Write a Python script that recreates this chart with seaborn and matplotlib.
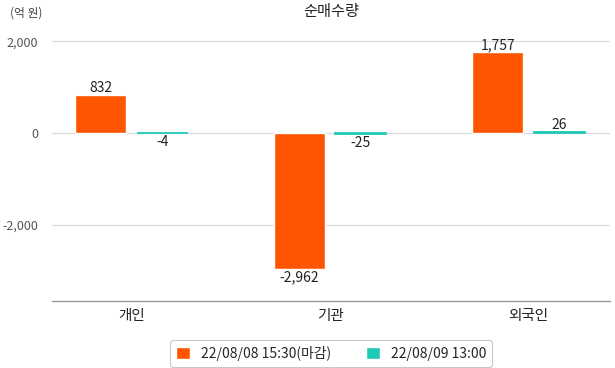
import pandas as pd
import matplotlib.pyplot as plt
import seaborn as sns

# data
categories = ["개인", "기관", "외국인"]
series_names = ["22/08/08 15:30(마감)", "22/08/09 13:00"]
close_values = [832, -2962, 1757]
intraday_values = [-4, -25, 26]
colors = ["#FF5500", "#1FC9B8"]

df = pd.DataFrame({
    "cat": categories * 2,
    "series": [series_names[0]] * 3 + [series_names[1]] * 3,
    "value": close_values + intraday_values,
})

sns.set_theme(style="white")
plt.rcParams["font.family"] = ["Noto Sans CJK KR", "DejaVu Sans"]

fig = plt.figure(figsize=(6.15, 3.68), dpi=100)
ax = fig.add_axes([0.0846, 0.182, 0.9074, 0.736])

sns.barplot(data=df, x="cat", y="value", hue="series", palette=colors,
            width=0.62, gap=0.17, saturation=1, ax=ax, legend=True)

# tiny values still show as a thin line, like the original
for bar in ax.containers[1]:
    bar.set_edgecolor(colors[1])
    bar.set_linewidth(1.3)

# value labels
for container in ax.containers:
    for bar in container:
        v = bar.get_height()
        xc = bar.get_x() + bar.get_width() / 2
        if v >= 0:
            ax.annotate(f"{v:,.0f}", (xc, v), xytext=(0, 0), textcoords="offset points",
                        ha="center", va="bottom", fontsize=10, color="#222222")
        else:
            ax.annotate(f"{v:,.0f}", (xc, v), xytext=(0, -1), textcoords="offset points",
                        ha="center", va="top", fontsize=10, color="#222222")

ax.set_xlim(-0.4, 2.41)
ax.set_ylim(-3652, 2239)
ax.set_yticks([2000, 0, -2000])
ax.set_yticklabels(["2,000", "0", "-2,000"])
ax.yaxis.grid(True, color="#d9d9d9", linewidth=0.9)
ax.set_axisbelow(True)
ax.tick_params(axis="y", length=0, labelsize=9, labelcolor="#555555", pad=10)
ax.tick_params(axis="x", length=0, labelsize=10.5, labelcolor="#222222", pad=6)
ax.set_xlabel("")
ax.set_ylabel("")
for s in ["left", "right", "top"]:
    ax.spines[s].set_visible(False)
ax.spines["bottom"].set_color("#999999")
ax.spines["bottom"].set_linewidth(1)

ax.set_title("순매수량", fontsize=11, color="#222222", pad=10)
fig.text(0.017, 0.965, "(억 원)", fontsize=8.5, color="#444444", va="center")

leg = ax.legend(loc="upper center", bbox_to_anchor=(0.5, -0.12), ncol=2,
                frameon=True, fontsize=10, handlelength=1.0, handleheight=1.0,
                columnspacing=2.5, borderpad=0.4, fancybox=True, shadow=False)
leg.get_frame().set_edgecolor("#bbbbbb")
leg.get_frame().set_linewidth(0.8)

fig.savefig("out.png", dpi=100)
